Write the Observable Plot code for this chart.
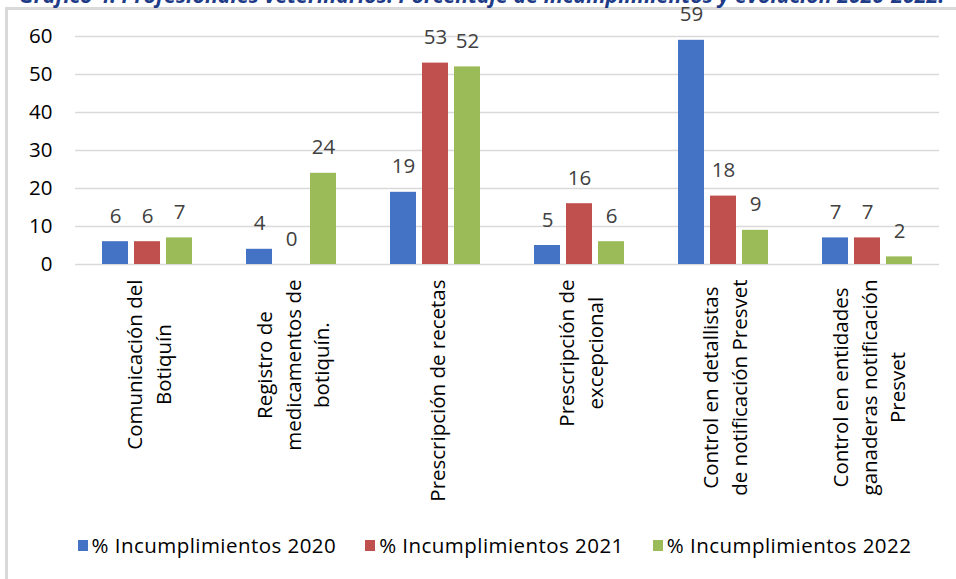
<!DOCTYPE html>
<html>
<head>
<meta charset="utf-8">
<script src="https://cdn.jsdelivr.net/npm/d3@7"></script>
<script src="https://cdn.jsdelivr.net/npm/@observablehq/plot@0.6"></script>
<style>
  html, body { margin: 0; padding: 0; background: #fff; }
  #wrap { position: relative; width: 956px; height: 579px; overflow: hidden; font-family: "Open Sans", Lato, sans-serif; }
  #frame { position: absolute; left: 5px; top: 7px; right: -20px; bottom: -20px; border: 3px solid #d9d9d9; }
  #title { position: absolute; left: 19px; top: -17px; white-space: nowrap; font-weight: bold; font-style: italic; color: #1F3C88; line-height: 24px; }
  #chart { position: absolute; left: 0; top: 0; }
  #legend { position: absolute; left: 0; top: 531px; width: 923px; padding-left: 33px; display: flex; justify-content: center; gap: 29px; color: #000; letter-spacing: 0.45px; }
  #legend .item { display: flex; align-items: center; gap: 4px; }
  #legend .sw { width: 10px; height: 11px; display: inline-block; }
</style>
</head>
<body>
<div id="wrap">
  <div id="frame"></div>
  <div id="title">Gráfico 4: Profesionales veterinarios. Porcentaje de incumplimientos y evolución 2020-2022.</div>
  <div id="chart"></div>
  <div id="legend"></div>
</div>
<script>
const categories = [
  "Comunicación del\nBotiquín",
  "Registro de\nmedicamentos de\nbotiquín.",
  "Prescripción de recetas",
  "Prescripción de\nexcepcional",
  "Control en detallistas\nde notificación Presvet",
  "Control en entidades\nganaderas notificación\nPresvet"
];
const series = ["% Incumplimientos 2020", "% Incumplimientos 2021", "% Incumplimientos 2022"];
const values2020 = [6, 4, 19, 5, 59, 7];
const values2021 = [6, 0, 53, 16, 18, 7];
const values2022 = [7, 24, 52, 6, 9, 2];
const colors = ["#4472C4", "#C0504D", "#9BBB59"];
const yTicks = [0, 10, 20, 30, 40, 50, 60];

const allValues = [values2020, values2021, values2022];
const data = categories.flatMap((c, i) => series.map((s, j) => ({cat: c, series: s, value: allValues[j][i]})));

const FONT = 20.5;
const FONTFAM = "'Open Sans', Lato, sans-serif";
const canvas = document.createElement("canvas");
const ctx = canvas.getContext("2d");

// title sized to span the reference width
const titleEl = document.getElementById("title");
ctx.font = "italic bold 20px 'Open Sans'";
const tw = ctx.measureText(titleEl.textContent).width;
titleEl.style.fontSize = (20 * 926 / tw) + "px";

ctx.font = `${FONT}px 'Open Sans'`;
const maxLen = c => d3.max(c.split("\n"), l => ctx.measureText(l).width);

const labelMarks = categories.map(c => Plot.text([c], {
  fx: d => d,
  text: d => d,
  frameAnchor: "bottom",
  rotate: -90,
  textAnchor: "middle",
  lineAnchor: "middle",
  lineHeight: 1.39,
  fontSize: FONT,
  fill: "#000",
  dy: 15 + maxLen(c) / 2
}));

const chart = Plot.plot({
  width: 956,
  height: 520,
  marginLeft: 73,
  marginRight: 16,
  marginTop: 36,
  marginBottom: 256,
  style: {fontFamily: FONTFAM, fontSize: FONT + "px", background: "transparent"},
  fx: {domain: categories, padding: 0, axis: null},
  x: {domain: series, paddingInner: 0.2, paddingOuter: 0.83, axis: null},
  y: {domain: [0, 60], axis: null},
  color: {domain: series, range: colors},
  marks: [
    Plot.gridY(yTicks, {stroke: "#d9d9d9", strokeOpacity: 1, strokeWidth: 1.5}),
    Plot.axisY(yTicks, {tickSize: 0, tickPadding: 23, fontSize: FONT, fill: "#000", label: null}),
    Plot.barY(data, {fx: "cat", x: "series", y: "value", fill: "series"}),
    Plot.text(data, {fx: "cat", x: "series", y: "value", text: d => String(d.value), lineAnchor: "bottom", dy: -19, fontSize: FONT, fill: "#404040"}),
    ...labelMarks
  ]
});
document.getElementById("chart").appendChild(chart);

const legend = d3.select("#legend").style("font-size", FONT + "px");
series.forEach((s, i) => {
  const item = legend.append("div").attr("class", "item");
  item.append("span").attr("class", "sw").style("background", colors[i]);
  item.append("span").text(s);
});
</script>
</body>
</html>
